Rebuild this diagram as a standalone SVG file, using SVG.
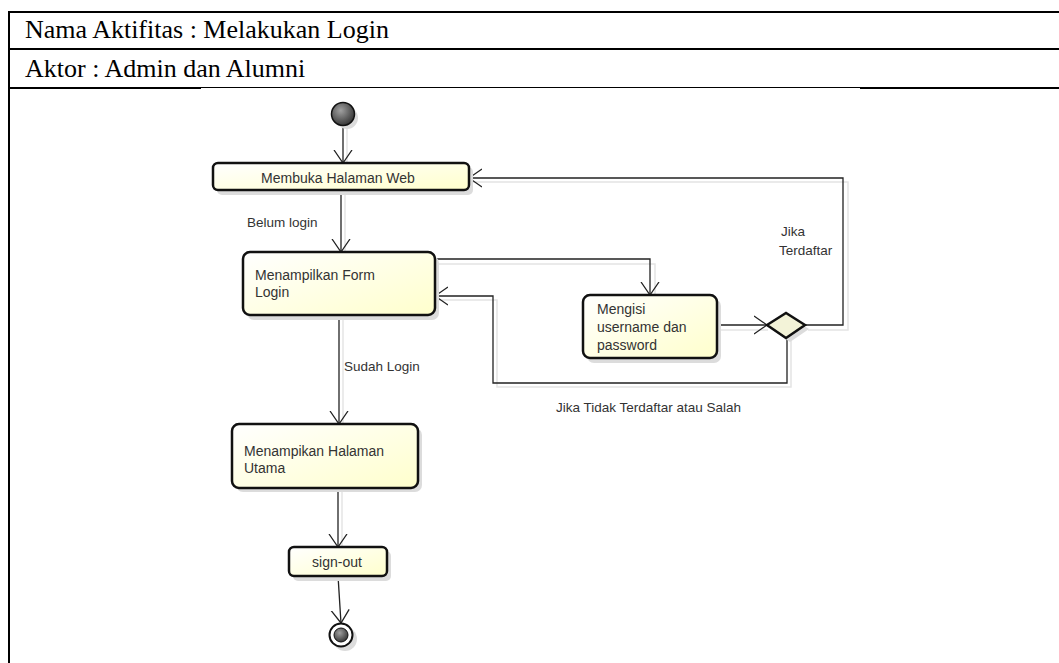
<svg xmlns="http://www.w3.org/2000/svg" width="1059" height="663" viewBox="0 0 1059 663">
<defs>
<linearGradient id="nodeFill" x1="0" y1="0" x2="1" y2="1">
<stop offset="0" stop-color="#ffffff"/>
<stop offset="1" stop-color="#ffffcc"/>
</linearGradient>
<radialGradient id="ballFill" cx="0.4" cy="0.35" r="0.7">
<stop offset="0" stop-color="#a0a0a0"/>
<stop offset="1" stop-color="#303030"/>
</radialGradient>
<marker id="arr" viewBox="0 0 14 20" refX="13" refY="10" markerWidth="14" markerHeight="20" markerUnits="userSpaceOnUse" orient="auto">
<path d="M0,1 L13,10 L0,19" fill="none" stroke="#222" stroke-width="1.3"/>
</marker>
</defs>
<style>
.hdr{font-family:"Liberation Serif","Times New Roman",serif;font-size:26px;fill:#000}
.tbl{stroke:#000;stroke-width:2;fill:none}
.thin{stroke:#000;stroke-width:1.2;fill:none}
.node{fill:url(#nodeFill);stroke:#111;stroke-width:2.5}
.shadow{fill:#dcdcdc;stroke:none}
.lbl{font-family:"Liberation Sans",Arial,sans-serif;font-size:13.5px;fill:#333}
.ntx{font-family:"Liberation Sans",Arial,sans-serif;font-size:14px;fill:#333}
.edge{fill:none;stroke:#222;stroke-width:1.3}
.eshadow{fill:none;stroke:#e4e4e4;stroke-width:1.5}
</style>

<g id="table">
<line class="tbl" x1="8" y1="12" x2="1059" y2="12"/>
<line class="tbl" x1="9" y1="49" x2="1059" y2="49"/>
<line class="tbl" x1="9" y1="88" x2="201" y2="88"/>
<line class="thin" x1="201" y1="87.5" x2="860" y2="87.5"/>
<line class="tbl" x1="860" y1="88" x2="1059" y2="88"/>
<line class="tbl" x1="9" y1="11" x2="9" y2="663"/>
<text class="hdr" x="25" y="38">Nama Aktifitas : Melakukan Login</text>
<text class="hdr" x="25" y="77">Aktor : Admin dan Alumni</text>
</g>

<g id="connectors">
<g class="shadows">
<path class="eshadow" d="M347,127 V163"/>
<path class="eshadow" d="M345,191 V252"/>
<path class="eshadow" d="M435,264 H655 V295"/>
<path class="eshadow" d="M472,182 H848 V330 H808"/>
<path class="eshadow" d="M718,330 H768"/>
<path class="eshadow" d="M791,340 V387 H497 V300 H437"/>
<path class="eshadow" d="M343,316 V424"/>
<path class="eshadow" d="M342,489 V547"/>
</g>
<path class="edge" d="M343,126 V163" marker-end="url(#arr)"/>
<path class="edge" d="M341,191 V252" marker-end="url(#arr)"/>
<path class="edge" d="M435,259 H650 V295" marker-end="url(#arr)"/>
<path class="edge" d="M717,325 H767" marker-end="url(#arr)"/>
<path class="edge" d="M805,325 H843 V178 H469" marker-end="url(#arr)"/>
<path class="edge" d="M787,338 V383 H493 V296 H435" marker-end="url(#arr)"/>
<path class="edge" d="M339,315 V424" marker-end="url(#arr)"/>
<path class="edge" d="M338,488 V547" marker-end="url(#arr)"/>
<path class="edge" d="M338,576 L341,623" marker-end="url(#arr)"/>
<text class="lbl" x="247" y="227">Belum login</text>
<text class="lbl" x="781" y="236">Jika</text>
<text class="lbl" x="779" y="255">Terdaftar</text>
<text class="lbl" x="344" y="371">Sudah Login</text>
<text class="lbl" x="556" y="412">Jika Tidak Terdaftar atau Salah</text>
</g>

<g id="start">
<circle cx="347" cy="118" r="11" fill="#dcdcdc"/>
<circle cx="343" cy="114" r="11.5" fill="url(#ballFill)" stroke="#111" stroke-width="1.5"/>
</g>

<g id="membuka">
<rect class="shadow" x="217" y="167" width="256" height="28" rx="5"/>
<rect class="node" x="213" y="163" width="256" height="27" rx="5"/>
<text class="ntx" x="338" y="183" text-anchor="middle">Membuka Halaman Web</text>
</g>

<g id="form-login">
<rect class="shadow" x="247" y="256" width="192" height="64" rx="7"/>
<rect class="node" x="243" y="252" width="192" height="63" rx="7"/>
<text class="ntx" x="255" y="280">Menampilkan Form</text>
<text class="ntx" x="255" y="297">Login</text>
</g>

<g id="mengisi">
<rect class="shadow" x="587" y="299" width="134" height="64" rx="7"/>
<rect class="node" x="583" y="295" width="134" height="63" rx="7"/>
<text class="ntx" x="597" y="314">Mengisi</text>
<text class="ntx" x="597" y="332">username dan</text>
<text class="ntx" x="597" y="350">password</text>
</g>

<g id="decision">
<polygon points="771,329 790,317 809,329 790,342" fill="#dcdcdc"/>
<polygon points="767,325 786,313 805,325 786,338" fill="#f3f3d8" stroke="#111" stroke-width="2.5"/>
</g>

<g id="halaman-utama">
<rect class="shadow" x="236" y="428" width="186" height="64" rx="7"/>
<rect class="node" x="232" y="424" width="186" height="64" rx="7"/>
<text class="ntx" x="244" y="456">Menampikan Halaman</text>
<text class="ntx" x="244" y="473">Utama</text>
</g>

<g id="sign-out">
<rect class="shadow" x="293" y="551" width="98" height="30" rx="5"/>
<rect class="node" x="289" y="547" width="98" height="29" rx="5"/>
<text class="ntx" x="337" y="567" text-anchor="middle">sign-out</text>
</g>

<g id="end">
<circle cx="345" cy="639" r="12" fill="#dcdcdc"/>
<circle cx="341" cy="635" r="11.5" fill="#fff" stroke="#111" stroke-width="2"/>
<circle cx="341" cy="635" r="7" fill="url(#ballFill)" stroke="#111" stroke-width="1"/>
</g>
</svg>
